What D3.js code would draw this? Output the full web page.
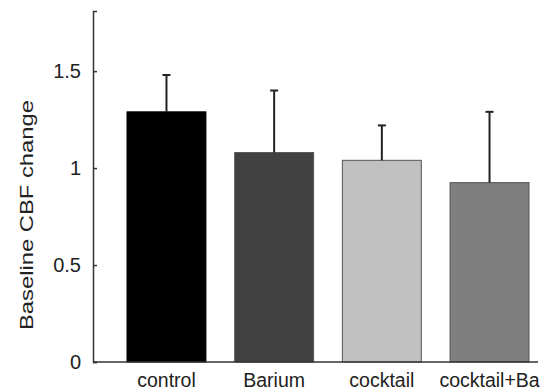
<!DOCTYPE html>
<html>
<head>
<meta charset="utf-8">
<script src="https://cdn.jsdelivr.net/npm/d3@7"></script>
<style>
  body { margin: 0; background: #fff; }
  text { font-family: "Liberation Sans", Arial, sans-serif; fill: #222; }
</style>
</head>
<body>
<div id="chart"></div>
<script>
const groups = ["control", "Barium", "cocktail", "cocktail+Ba"];
const means = [1.29, 1.08, 1.04, 0.925];
const errors = [0.19, 0.32, 0.18, 0.365];
const colors = ["#000000", "#414141", "#c0c0c0", "#7f7f7f"];
const yTicks = [0, 0.5, 1, 1.5];

const width = 547, height = 392;
const margin = { top: 11, right: 9, bottom: 30, left: 93 };

const svg = d3.select("#chart")
  .append("svg")
  .attr("width", width)
  .attr("height", height);

// bars sit between x=127 and x=529, the axis runs further on both sides
const x = d3.scaleBand()
  .domain(groups)
  .range([127, 529])
  .paddingInner(0.267)
  .paddingOuter(0);

const y = d3.scaleLinear()
  .domain([0, 1.81])
  .range([height - margin.bottom, margin.top]);

// bars
svg.selectAll(".bar")
  .data(groups)
  .enter()
  .append("rect")
  .attr("class", "bar")
  .attr("x", d => x(d))
  .attr("y", (d, i) => y(means[i]))
  .attr("width", x.bandwidth())
  .attr("height", (d, i) => y(0) - y(means[i]))
  .attr("fill", (d, i) => colors[i])
  .attr("stroke", (d, i) => i === 0 ? "#000" : "#555")
  .attr("stroke-width", 1);

// error bars
const err = svg.selectAll(".err")
  .data(groups)
  .enter()
  .append("g")
  .attr("class", "err")
  .attr("stroke", "#222")
  .attr("stroke-width", 2);

err.append("line")
  .attr("x1", d => x(d) + x.bandwidth() / 2)
  .attr("x2", d => x(d) + x.bandwidth() / 2)
  .attr("y1", (d, i) => y(means[i]))
  .attr("y2", (d, i) => y(means[i] + errors[i]));

err.append("line")
  .attr("x1", d => x(d) + x.bandwidth() / 2 - 4)
  .attr("x2", d => x(d) + x.bandwidth() / 2 + 4)
  .attr("y1", (d, i) => y(means[i] + errors[i]))
  .attr("y2", (d, i) => y(means[i] + errors[i]));

// y axis
const yAxis = d3.axisLeft(y)
  .tickValues(yTicks)
  .tickSize(-4)
  .tickPadding(12)
  .tickFormat(d3.format("~g"));

const gy = svg.append("g")
  .attr("transform", `translate(${margin.left},0)`)
  .call(yAxis);
gy.select(".domain").attr("stroke", "#333").attr("stroke-width", 1.5);
gy.selectAll(".tick line").attr("stroke", "#333").attr("stroke-width", 1.5);
gy.selectAll(".tick text").style("font-size", "20px").attr("fill", "#222");

// x axis
const xAxis = d3.axisBottom(x).tickSize(0).tickPadding(11);
const gx = svg.append("g")
  .attr("transform", `translate(0,${y(0)})`)
  .call(xAxis);
gx.select(".domain").attr("d", `M${margin.left},0H${width - margin.right}`)
  .attr("stroke", "#333").attr("stroke-width", 1.5);
gx.selectAll(".tick text").style("font-size", "19.5px").attr("fill", "#222");

// y label
svg.append("text")
  .attr("transform", `translate(33,215) rotate(-90)`)
  .style("text-anchor", "middle")
  .style("font-size", "18px")
  .attr("textLength", 230)
  .attr("lengthAdjust", "spacingAndGlyphs")
  .text("Baseline CBF change");
</script>
</body>
</html>
